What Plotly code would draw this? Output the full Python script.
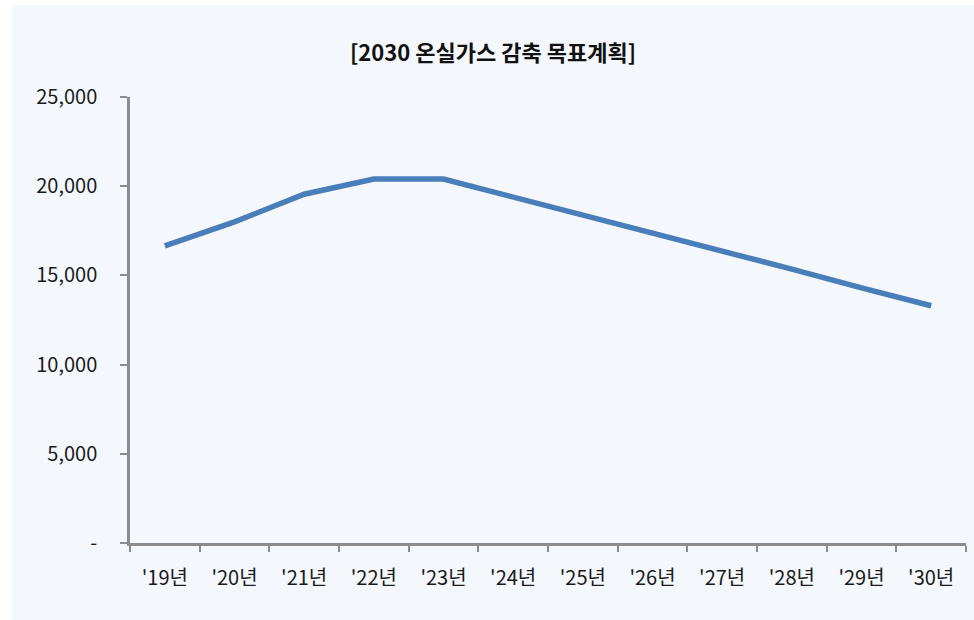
import plotly.graph_objects as go

years = ["'19년", "'20년", "'21년", "'22년", "'23년", "'24년", "'25년", "'26년", "'27년", "'28년", "'29년", "'30년"]
emissions = [16650, 18000, 19550, 20400, 20400, 19400, 18400, 17400, 16350, 15350, 14300, 13300]
y_tickvals = [0, 5000, 10000, 15000, 20000, 25000]
y_ticktext = ["-", "5,000", "10,000", "15,000", "20,000", "25,000"]
title_text = "[2030 온실가스 감축 목표계획]"

FONT = "Noto Sans CJK KR, Noto Sans, sans-serif"
BG = "#f4f7fc"
AX = "#8c8c8c"
TXT = "#1a1a1a"

W, H = 974, 620
L, R, T, B = 130, 8, 97, 77
pw, ph = W - L - R, H - T - B

def px_to_paper_x(px):
    return (px - L) / pw

def px_to_paper_y(py):
    return (H - B - py) / ph

fig = go.Figure()
fig.add_trace(go.Scatter(
    x=years, y=emissions, mode="lines",
    line=dict(color="#4a7ebb", width=5.5),
    hoverinfo="skip", showlegend=False,
))

fig.update_layout(
    width=W, height=H,
    margin=dict(l=L, r=R, t=T, b=B),
    paper_bgcolor="white",
    plot_bgcolor=BG,
    font=dict(family=FONT, size=20, color=TXT),
    title=dict(text="<b>" + title_text + "</b>", x=493 / W, xref="container", xanchor="center",
               y=1 - 53 / H, yref="container", yanchor="middle",
               font=dict(family=FONT, size=22, color="#111111")),
    shapes=[dict(type="rect", xref="paper", yref="paper", layer="below",
                 x0=px_to_paper_x(12), x1=px_to_paper_x(W + 2),
                 y0=px_to_paper_y(H + 2), y1=px_to_paper_y(5),
                 fillcolor=BG, line=dict(width=0))],
)

fig.update_xaxes(
    type="category", range=[-0.5, len(years) - 0.5],
    tickson="boundaries", ticks="outside", ticklen=6, tickwidth=2, tickcolor=AX,
    showline=True, linecolor=AX, linewidth=2.5, showgrid=False, zeroline=False,
    ticklabelstandoff=15, tickfont=dict(family=FONT, size=20, color=TXT),
)
fig.update_yaxes(
    range=[0, 25000], tickvals=y_tickvals, ticktext=y_ticktext,
    ticks="outside", ticklen=7, tickwidth=2, tickcolor=AX,
    showline=True, linecolor=AX, linewidth=2.5, showgrid=False, zeroline=False,
    ticklabelstandoff=19, tickfont=dict(family=FONT, size=20, color=TXT),
)

html = fig.to_html(include_plotlyjs=True, full_html=True, config={"displayModeBar": False})
html = html.replace("<head>", "<head><style>html,body{margin:0;padding:0;}</style>", 1)
with open("out.html", "w", encoding="utf-8") as f:
    f.write(html)
